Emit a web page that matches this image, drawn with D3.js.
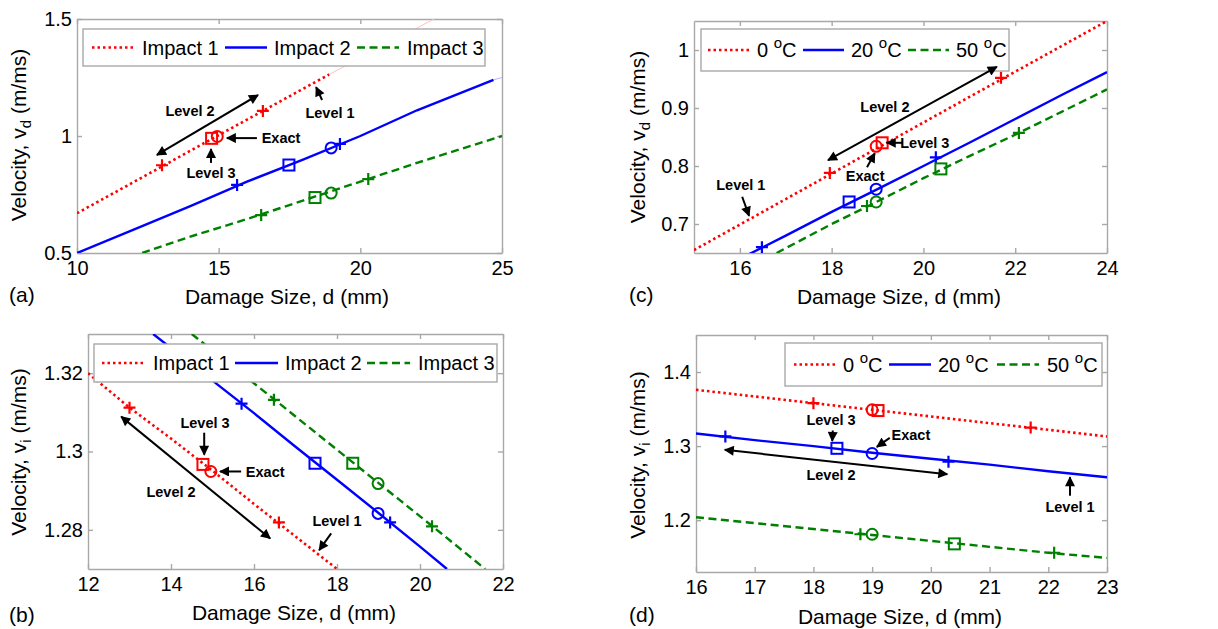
<!DOCTYPE html>
<html>
<head>
<meta charset="utf-8">
<script src="https://cdn.jsdelivr.net/npm/d3@7"></script>
<style>
body { margin: 0; background: #fff; }
text { font-family: "Liberation Sans", Arial, sans-serif; }
</style>
</head>
<body>
<svg id="fig" width="1218" height="629"></svg>
<script>
// values: [d (mm), v (m/ms)]
// (a) v_d, impacts
const aImpact1 = [[10,0.67],[12,0.803],[14,0.937],[16,1.07],[18.9,1.263]];
const aImpact1Tail = [[18.9,1.263],[22.6,1.5]];
const aImpact2 = [[10,0.5],[12,0.6],[14,0.7],[16,0.805],[18,0.9],[20,1.0],[22,1.11],[24.7,1.24]];
const aImpact2Tail = [[24.7,1.24],[25,1.25]];
const aImpact3 = [[12.3,0.5],[14,0.57],[16,0.645],[18,0.725],[20,0.805],[22,0.885],[25,1.0]];
const aMarks1 = [[13,0.875,"+"],[16.56,1.107,"+"],[14.75,0.99,"s"],[14.95,0.998,"o"]];
const aMarks2 = [[15.65,0.791,"+"],[17.48,0.876,"s"],[18.97,0.949,"o"],[19.28,0.966,"+"]];
const aMarks3 = [[16.5,0.662,"+"],[18.4,0.737,"s"],[18.97,0.756,"o"],[20.28,0.816,"+"]];
const aNotes = [["Level 2",13.99,1.107],["Level 1",18.93,1.098],["Exact",17.2,0.991],["Level 3",14.73,0.842]];
const aArrows = [[12.82,0.919,16.39,1.175,2],[18.65,1.154,18.44,1.209,1],[16.35,0.991,15.29,0.991,1],[14.73,0.885,14.73,0.944,1]];
const aXTicks = [10,15,20,25];
const aYTicks = [0.5,1,1.5];

// (c) v_d, temperatures
const cTemp0 = [[15,0.655],[17,0.743],[19,0.831],[21,0.919],[24,1.05]];
const cTemp20 = [[16.2,0.648],[16.5,0.66],[17,0.68],[18,0.721],[19,0.76],[20,0.8],[21,0.84],[22,0.881],[23,0.922],[24,0.962]];
const cTemp50 = [[16.8,0.65],[18,0.7],[18.8,0.731],[20,0.779],[21,0.817],[22,0.854],[23,0.893],[24,0.932]];
const cMarks0 = [[17.96,0.788,"+"],[18.97,0.834,"o"],[19.1,0.84,"s"],[21.69,0.952,"+"]];
const cMarks20 = [[16.48,0.66,"+"],[18.38,0.738,"s"],[18.97,0.76,"o"],[20.27,0.815,"+"]];
const cMarks50 = [[18.77,0.731,"+"],[18.97,0.738,"o"],[20.38,0.795,"s"],[22.08,0.857,"+"]];
const cNotes = [["Level 2",19.16,0.902],["Level 3",20.03,0.84],["Exact",18.73,0.783],["Level 1",16.02,0.767]];
const cArrows = [[17.92,0.81,21.6,0.971,2],[19.55,0.84,19.2,0.84,1],[18.77,0.798,18.94,0.822,1],[16.05,0.747,16.2,0.714,1]];
const cXTicks = [16,18,20,22,24];
const cYTicks = [0.7,0.8,0.9,1];

// (b) v_i, impacts
const bImpact1 = [[12,1.32],[13,1.3112],[14,1.3033],[15,1.2951],[16,1.2866],[17,1.2783],[18,1.27]];
const bImpact2 = [[13.57,1.33],[15,1.3181],[16,1.3098],[17,1.3012],[18,1.2928],[19,1.2843],[20,1.2757],[20.65,1.27]];
const bImpact3 = [[14.5,1.33],[15.5,1.3216],[16.5,1.3132],[17.5,1.3047],[18.5,1.2962],[19.5,1.2877],[20.5,1.2792],[21.57,1.27]];
const bMarks1 = [[13,1.3112,"+"],[16.6,1.2819,"+"],[14.77,1.2967,"s"],[14.96,1.2949,"o"]];
const bMarks2 = [[15.7,1.3122,"+"],[17.47,1.297,"s"],[18.99,1.2842,"o"],[19.28,1.2819,"+"]];
const bMarks3 = [[16.48,1.3132,"+"],[18.38,1.297,"s"],[18.99,1.2918,"o"],[20.29,1.2809,"+"]];
const bNotes = [["Level 3",14.82,1.3074],["Exact",16.27,1.2949],["Level 2",14.0,1.2896],["Level 1",18.0,1.2822]];
const bArrows = [[14.8,1.3048,14.8,1.2992,1],[15.69,1.2949,15.18,1.2949,1],[12.8,1.3089,16.39,1.2778,2],[17.86,1.2791,17.57,1.2748,1]];
const bXTicks = [12,14,16,18,20,22];
const bYTicks = [1.28,1.3,1.32];

// (d) v_i, temperatures
const dTemp0 = [[16,1.376],[17,1.367],[18,1.358],[19,1.349],[20,1.34],[21,1.331],[22,1.322],[23,1.313]];
const dTemp20 = [[16,1.317],[17,1.308],[18,1.3],[19,1.291],[20,1.283],[21,1.275],[22,1.266],[23,1.258]];
const dTemp50 = [[16,1.204],[17,1.196],[18,1.188],[19,1.18],[20,1.172],[21,1.164],[22,1.156],[23,1.149]];
const dMarks0 = [[18,1.358,"+"],[19,1.349,"o"],[19.1,1.348,"s"],[21.7,1.325,"+"]];
const dMarks20 = [[16.5,1.313,"+"],[18.4,1.297,"s"],[19,1.29,"o"],[20.3,1.279,"+"]];
const dMarks50 = [[18.8,1.181,"+"],[19,1.181,"o"],[20.4,1.168,"s"],[22.1,1.156,"+"]];
const dNotes = [["Level 3",18.3,1.336],["Exact",19.66,1.315],["Level 2",18.3,1.261],["Level 1",22.37,1.218]];
const dArrows = [[18.33,1.321,18.32,1.307,1],[19.3,1.311,19.08,1.299,1],[16.49,1.295,20.28,1.262,2],[22.37,1.233,22.37,1.258,1]];
const dXTicks = [16,17,18,19,20,21,22,23];
const dYTicks = [1.2,1.3,1.4];

const impactLabels = ["Impact 1","Impact 2","Impact 3"];
const tempLabels = ["0","20","50"];

const RED = "#ff0000", BLUE = "#0000ff", GREEN = "#008000", BOX = "#a8a8a8";
const styles = [
  {color: RED, dash: "2.5,3", width: 2.6},
  {color: BLUE, dash: null, width: 2.4},
  {color: GREEN, dash: "8,4.5", width: 2.4}
];
const FS = 21;

const svg = d3.select("#fig");
const defs = svg.append("defs");
defs.append("marker").attr("id","ah")
  .attr("viewBox","0 0 10 10").attr("refX",9).attr("refY",5)
  .attr("markerWidth",11).attr("markerHeight",10).attr("markerUnits","userSpaceOnUse")
  .attr("orient","auto-start-reverse")
  .append("path").attr("d","M0,0 L10,5 L0,10 z").attr("fill","#000");

function panel(cfg) {
  const g = svg.append("g");
  const x = d3.scaleLinear().domain(cfg.xDom).range([cfg.l, cfg.r]);
  const y = d3.scaleLinear().domain(cfg.yDom).range([cfg.b, cfg.t]);

  defs.append("clipPath").attr("id","clip"+cfg.id)
    .append("rect").attr("x",cfg.l).attr("y",cfg.t)
    .attr("width",cfg.r-cfg.l).attr("height",cfg.b-cfg.t);

  // box + inward ticks on all four sides
  const axes = [
    [d3.axisBottom(x).tickValues(cfg.xTicks).tickFormat(d=>String(d)).tickPadding(8), `translate(0,${cfg.b})`],
    [d3.axisTop(x).tickValues(cfg.xTicks).tickFormat(""), `translate(0,${cfg.t})`],
    [d3.axisLeft(y).tickValues(cfg.yTicks).tickFormat(d=>String(d)).tickPadding(5), `translate(${cfg.l},0)`],
    [d3.axisRight(y).tickValues(cfg.yTicks).tickFormat(""), `translate(${cfg.r},0)`]
  ];
  axes.forEach(([ax, tr]) => {
    const a = g.append("g").attr("transform", tr)
      .call(ax.tickSizeInner(-5).tickSizeOuter(0));
    a.select(".domain").attr("stroke", BOX).attr("stroke-width", 1.4);
    a.selectAll(".tick line").attr("stroke", BOX).attr("stroke-width", 1.4);
    a.selectAll(".tick text").attr("fill","#000").attr("font-size",20)
      .attr("font-family",'"Liberation Sans", Arial, sans-serif');
  });

  const plot = g.append("g").attr("clip-path",`url(#clip${cfg.id})`);
  const line = d3.line().x(d=>x(d[0])).y(d=>y(d[1]));

  (cfg.tails || []).forEach(t => {
    plot.append("path").attr("d", line(t.pts)).attr("fill","none")
      .attr("stroke", t.color).attr("stroke-width", 1);
  });

  cfg.series.forEach((s, i) => {
    const st = styles[i];
    plot.append("path").attr("d", line(s)).attr("fill","none")
      .attr("stroke", st.color).attr("stroke-width", st.width)
      .attr("stroke-dasharray", st.dash);
  });

  cfg.marks.forEach((ms, i) => {
    const c = styles[i].color;
    ms.forEach(([d, v, k]) => {
      const px = x(d), py = y(v);
      if (k === "+") {
        plot.append("path").attr("d",`M${px-6},${py}H${px+6}M${px},${py-6}V${py+6}`)
          .attr("stroke",c).attr("stroke-width",2.2);
      } else if (k === "s") {
        plot.append("rect").attr("x",px-5.5).attr("y",py-5.5).attr("width",11).attr("height",11)
          .attr("fill","none").attr("stroke",c).attr("stroke-width",2);
      } else {
        plot.append("circle").attr("cx",px).attr("cy",py).attr("r",5.5)
          .attr("fill","none").attr("stroke",c).attr("stroke-width",2);
      }
    });
  });

  // legend
  const L = cfg.legend;
  g.append("rect").attr("x",L.box[0]).attr("y",L.box[1])
    .attr("width",L.box[2]-L.box[0]).attr("height",L.box[3]-L.box[1])
    .attr("fill","#fff").attr("stroke",BOX).attr("stroke-width",1.4);
  const cy = (L.box[1]+L.box[3])/2;
  L.labels.forEach((lab, i) => {
    const st = styles[i];
    g.append("line").attr("x1",L.sx[i]).attr("x2",L.sx[i]+L.sw).attr("y1",cy).attr("y2",cy)
      .attr("stroke",st.color).attr("stroke-width",st.width).attr("stroke-dasharray",st.dash);
    const t = g.append("text").attr("x",L.tx[i]).attr("y",cy).attr("dy","0.36em")
      .attr("font-size",20);
    if (L.temp) {
      t.append("tspan").text(lab + " ");
      t.append("tspan").attr("font-size",15).attr("dy",-9).text("o");
      t.append("tspan").attr("dy",9).text("C");
    } else {
      t.text(lab);
    }
  });

  // annotations, above the legend
  cfg.arrows.forEach(([x1,y1,x2,y2,n]) => {
    g.append("line").attr("x1",x(x1)).attr("y1",y(y1)).attr("x2",x(x2)).attr("y2",y(y2))
      .attr("stroke","#000").attr("stroke-width",2)
      .attr("marker-end","url(#ah)")
      .attr("marker-start", n === 2 ? "url(#ah)" : null);
  });
  cfg.notes.forEach(([t, d, v]) => {
    g.append("text").attr("x",x(d)).attr("y",y(v)).attr("dy","0.36em")
      .attr("text-anchor","middle").attr("font-size",14.5).attr("font-weight","bold")
      .text(t);
  });

  // axis labels
  g.append("text").attr("x",cfg.xl[0]).attr("y",cfg.xl[1]).attr("text-anchor","middle")
    .attr("font-size",FS).text("Damage Size, d (mm)");
  const yl = g.append("text").attr("transform",`translate(${cfg.yl[0]},${cfg.yl[1]}) rotate(-90)`)
    .attr("text-anchor","middle").attr("dy","0.36em").attr("font-size",FS);
  yl.append("tspan").text("Velocity, v");
  yl.append("tspan").attr("font-size",15).attr("dy",5).text(cfg.ysub);
  yl.append("tspan").attr("dy",-5).text(" (m/ms)");
  g.append("text").attr("x",cfg.letter[0]).attr("y",cfg.letter[1])
    .attr("font-size",FS).text(cfg.letter[2]);
}

panel({
  id: "a", l: 77, r: 502, t: 19, b: 253, xDom: [10,25], yDom: [0.5,1.5],
  xTicks: aXTicks, yTicks: aYTicks,
  series: [aImpact1, aImpact2, aImpact3], marks: [aMarks1, aMarks2, aMarks3],
  tails: [{pts: aImpact1Tail, color: "#ffc0c0"}, {pts: aImpact2Tail, color: "#b3b3ff"}],
  notes: aNotes, arrows: aArrows,
  legend: {box: [83,29,485,66], sx: [92,225,357], sw: 42, tx: [142,274,407], labels: impactLabels},
  xl: [287,304], yl: [18,135], ysub: "d", letter: [9,302,"(a)"]
});
panel({
  id: "c", l: 694, r: 1107, t: 21, b: 253, xDom: [15,24], yDom: [0.65,1.05],
  xTicks: cXTicks, yTicks: cYTicks,
  series: [cTemp0, cTemp20, cTemp50], marks: [cMarks0, cMarks20, cMarks50],
  notes: cNotes, arrows: cArrows,
  legend: {box: [701,29,1009,71], sx: [708,803,908], sw: 41, tx: [757,851,956], labels: tempLabels, temp: true},
  xl: [899,304], yl: [637,137], ysub: "d", letter: [629,302,"(c)"]
});
panel({
  id: "b", l: 88, r: 503, t: 334, b: 569, xDom: [12,22], yDom: [1.27,1.33],
  xTicks: bXTicks, yTicks: bYTicks,
  series: [bImpact1, bImpact2, bImpact3], marks: [bMarks1, bMarks2, bMarks3],
  notes: bNotes, arrows: bArrows,
  legend: {box: [94,344,497,382], sx: [102,235,367], sw: 43, tx: [153,285,418], labels: impactLabels},
  xl: [294,620], yl: [18,452], ysub: "i", letter: [9,622,"(b)"]
});
panel({
  id: "d", l: 696, r: 1107, t: 335, b: 572, xDom: [16,23], yDom: [1.13,1.45],
  xTicks: dXTicks, yTicks: dYTicks,
  series: [dTemp0, dTemp20, dTemp50], marks: [dMarks0, dMarks20, dMarks50],
  notes: dNotes, arrows: dArrows,
  legend: {box: [785,343,1102,386], sx: [794,889,997], sw: 42, tx: [843,938,1047], labels: tempLabels, temp: true},
  xl: [900,624], yl: [637,455], ysub: "i", letter: [629,622,"(d)"]
});
</script>
</body>
</html>
